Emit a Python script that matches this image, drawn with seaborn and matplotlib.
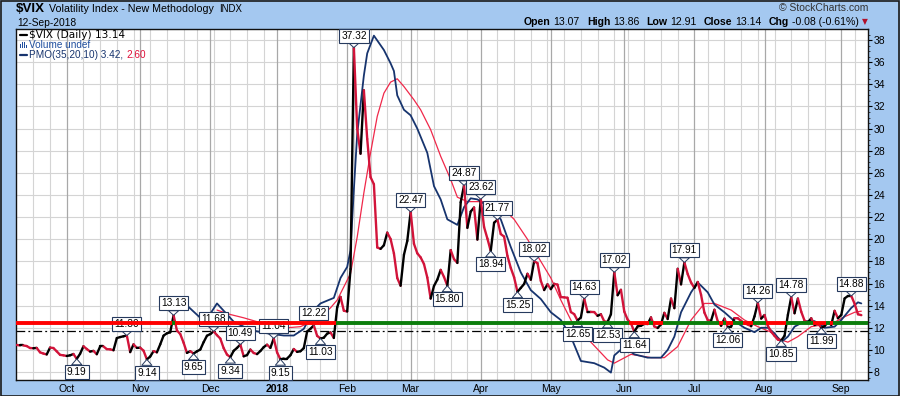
import numpy as np
import pandas as pd
import matplotlib
matplotlib.use("Agg")
import matplotlib.pyplot as plt
import seaborn as sns
from matplotlib.collections import LineCollection
from matplotlib.lines import Line2D
from matplotlib.patches import Rectangle

# ---------------- data ----------------
start_date = "2017-09-11"
end_date = "2018-09-12"
market_holidays = ["2017-11-23", "2017-12-25", "2018-01-01", "2018-01-15", "2018-02-19",
                   "2018-03-30", "2018-05-28", "2018-07-04", "2018-09-03"]

vix_sep17 = [10.45, 10.40, 10.40, 10.35, 10.17, 10.15, 10.18, 9.78, 9.67, 9.59, 10.21, 10.17, 9.87, 9.55, 9.51]
vix_oct17 = [9.45, 9.51, 9.63, 9.19, 9.65, 10.33, 10.08, 9.85, 9.91, 9.61, 10.31, 10.31, 10.07, 10.05, 9.97,
             11.07, 11.16, 11.23, 11.30, 9.80, 10.50, 10.18]
vix_nov17 = [10.20, 9.93, 9.14, 9.40, 9.89, 9.78, 10.50, 11.29, 11.50, 11.59, 13.13, 11.76, 11.43, 10.65, 9.73,
             9.88, 9.67, 9.87, 10.03, 10.70, 11.28]
vix_dec17 = [11.43, 11.68, 11.33, 11.02, 10.16, 9.58, 9.34, 9.92, 10.18, 10.49, 9.42, 9.53, 10.03, 9.72, 9.62,
             9.90, 10.25, 10.47, 10.18, 11.04]
vix_jan18 = [9.77, 9.15, 9.22, 9.22, 9.52, 10.08, 9.82, 9.88, 10.16, 11.66, 11.91, 12.22, 11.27, 11.03, 11.10,
             11.47, 11.58, 11.08, 13.84, 14.79, 13.54]
vix_feb18 = [13.47, 17.31, 37.32, 29.98, 27.73, 33.46, 29.06, 25.61, 24.97, 19.26, 19.13, 19.46, 20.60, 20.02,
             18.72, 16.49, 15.80, 18.59, 19.85]
vix_mar18 = [22.47, 19.59, 18.73, 18.36, 17.76, 16.54, 14.64, 15.78, 16.35, 17.23, 16.59, 15.80, 19.02, 18.20,
             17.86, 23.34, 24.87, 21.03, 22.50, 22.87, 19.97]
vix_apr18 = [23.62, 21.10, 20.06, 18.94, 21.49, 21.77, 20.47, 20.24, 18.49, 17.41, 16.56, 15.25, 15.60, 15.96,
             16.88, 16.34, 18.02, 17.84, 16.24, 15.41, 15.93]
vix_may18 = [15.49, 15.97, 15.90, 14.77, 14.75, 14.71, 13.42, 13.23, 12.65, 12.93, 14.63, 13.42, 13.43, 13.42,
             13.08, 13.22, 12.58, 12.53, 13.22, 17.02, 14.94, 15.43]
vix_jun18 = [13.46, 12.74, 12.40, 11.64, 12.13, 12.18, 12.35, 12.34, 12.94, 12.12, 11.98, 12.31, 13.35, 12.79,
             14.64, 13.77, 17.33, 15.92, 17.91, 16.85, 16.09]
vix_jul18 = [15.60, 16.14, 14.97, 13.37, 12.69, 12.64, 13.63, 12.58, 12.18, 12.83, 12.06, 12.10, 12.87, 12.86,
             12.62, 12.41, 12.29, 12.14, 13.03, 14.26, 12.83]
vix_aug18 = [13.15, 12.19, 11.64, 11.27, 10.93, 10.85, 11.27, 13.16, 14.78, 13.31, 14.64, 13.45, 12.64, 12.49,
             12.86, 12.25, 12.41, 11.99, 12.16, 12.50, 12.25, 13.53, 12.86]
vix_sep18 = [13.16, 14.65, 14.88, 14.88, 14.16, 13.22, 13.14]

label_dates = ["2017-10-05", "2017-10-26", "2017-11-03", "2017-11-15", "2017-11-24", "2017-12-04",
               "2017-12-11", "2017-12-14", "2017-12-29", "2018-01-03", "2018-01-18", "2018-01-22",
               "2018-02-05", "2018-03-01", "2018-03-16", "2018-03-23", "2018-04-02", "2018-04-05",
               "2018-04-09", "2018-04-17", "2018-04-24", "2018-05-11", "2018-05-15", "2018-05-24",
               "2018-05-29", "2018-06-06", "2018-06-27", "2018-07-17", "2018-07-30", "2018-08-08",
               "2018-08-13", "2018-08-24", "2018-09-07"]
label_values = [9.19, 11.30, 9.14, 13.13, 9.65, 11.68, 9.34, 10.49, 11.04, 9.15, 12.22, 11.03,
                37.32, 22.47, 15.80, 24.87, 23.62, 18.94, 21.77, 15.25, 18.02, 12.65, 14.63, 12.53,
                17.02, 11.64, 17.91, 12.06, 14.26, 10.85, 14.78, 11.99, 14.88]
label_sides = ["low", "high", "low", "high", "low", "high", "low", "high", "high", "low", "high", "low",
               "high", "high", "low", "high", "high", "low", "high", "low", "high", "low", "high", "low",
               "high", "low", "high", "low", "high", "low", "high", "low", "high"]

pmo_dates = ["2017-11-20", "2017-11-28", "2017-11-30", "2017-12-05", "2017-12-12", "2017-12-19",
             "2017-12-27", "2018-01-04", "2018-01-09", "2018-01-12", "2018-01-18", "2018-01-22",
             "2018-01-26", "2018-01-30", "2018-02-01", "2018-02-02", "2018-02-05", "2018-02-06",
             "2018-02-08", "2018-02-09", "2018-02-13", "2018-02-16", "2018-02-21", "2018-02-22",
             "2018-02-23", "2018-02-27", "2018-03-01", "2018-03-05", "2018-03-08", "2018-03-12",
             "2018-03-14", "2018-03-16", "2018-03-21", "2018-03-23", "2018-03-27", "2018-03-29",
             "2018-04-04", "2018-04-10", "2018-04-13", "2018-04-18", "2018-04-23", "2018-04-26",
             "2018-05-01", "2018-05-04", "2018-05-09", "2018-05-14", "2018-05-18", "2018-05-23",
             "2018-05-25", "2018-05-29", "2018-06-01", "2018-06-06", "2018-06-12", "2018-06-18",
             "2018-06-20", "2018-06-22", "2018-06-26", "2018-06-29", "2018-07-03", "2018-07-09",
             "2018-07-11", "2018-07-16", "2018-07-19", "2018-07-24", "2018-07-27", "2018-07-31",
             "2018-08-02", "2018-08-06", "2018-08-08", "2018-08-10", "2018-08-14", "2018-08-17",
             "2018-08-22", "2018-08-27", "2018-08-30", "2018-09-04", "2018-09-07", "2018-09-11",
             "2018-09-12"]
pmo_values = [14.3, 12.9, 12.8, 14.2, 12.55, 11.8, 11.5, 11.3, 11.3, 11.9, 13.6, 14.2, 14.7, 16.5, 17.5,
              19.0, 24.5, 29.5, 34.8, 36.8, 38.4, 37.1, 35.9, 35.2, 33.0, 31.7, 31.2, 30.0, 27.8, 24.8,
              23.6, 21.8, 21.3, 22.9, 23.7, 23.6, 23.0, 21.8, 19.3, 17.0, 15.4, 14.6, 13.4, 12.7, 11.2,
              9.0, 8.8, 8.4, 7.95, 9.5, 10.3, 9.6, 9.3, 9.3, 10.0, 11.2, 13.4, 15.2, 16.1, 15.2, 14.1,
              13.4, 12.6, 12.0, 11.6, 12.0, 12.0, 11.5, 10.7, 11.2, 12.1, 12.6, 12.6, 12.0, 12.1, 12.7,
              13.8, 14.3, 14.2]

signal_dates = ["2017-12-05", "2017-12-11", "2017-12-15", "2017-12-21", "2017-12-28", "2018-01-05",
                "2018-01-11", "2018-01-17", "2018-01-22", "2018-01-25", "2018-01-29", "2018-02-02",
                "2018-02-06", "2018-02-08", "2018-02-12", "2018-02-14", "2018-02-16", "2018-02-21",
                "2018-02-23", "2018-02-27", "2018-03-02", "2018-03-06", "2018-03-09", "2018-03-14",
                "2018-03-19", "2018-03-21", "2018-03-26", "2018-03-29", "2018-04-04", "2018-04-10",
                "2018-04-16", "2018-04-20", "2018-04-26", "2018-05-01", "2018-05-04", "2018-05-10",
                "2018-05-17", "2018-05-24", "2018-05-29", "2018-06-05", "2018-06-13", "2018-06-19",
                "2018-06-25", "2018-06-29", "2018-07-06", "2018-07-11", "2018-07-18", "2018-07-24",
                "2018-07-30", "2018-08-03", "2018-08-08", "2018-08-10", "2018-08-15", "2018-08-21",
                "2018-08-27", "2018-08-30", "2018-09-05", "2018-09-10", "2018-09-12"]
signal_values = [13.6, 13.2, 12.9, 12.55, 12.1, 12.0, 12.1, 12.5, 13.0, 13.8, 14.5, 16.9, 20.2, 24.2,
                 27.8, 31.1, 33.2, 34.2, 34.5, 33.8, 32.6, 31.7, 29.9, 27.5, 25.4, 23.8, 23.4, 23.4,
                 23.4, 23.0, 21.8, 20.0, 18.0, 16.5, 14.5, 12.1, 10.7, 9.1, 8.8, 9.6, 9.3, 9.3, 10.3,
                 12.7, 14.2, 14.2, 13.6, 12.7, 12.1, 11.6, 10.9, 10.7, 11.2, 12.1, 12.3, 12.5, 13.0,
                 13.4, 13.5]

level_value = 12.45        # thick horizontal line
support_value = 11.75      # dash-dot horizontal line
y_ticks = list(range(8, 39, 2))
month_names = ["Oct", "Nov", "Dec", "2018", "Feb", "Mar", "Apr", "May", "Jun", "Jul", "Aug", "Sep"]

# ---------------- styling ----------------
BG = "#A4C8F0"
UP = "#000000"
DOWN = "#D2143A"
PMO_C = "#17346E"
SIG_C = "#F0284A"
BOX_EC = "#263A5E"

sns.set_theme(style="white")
plt.rcParams["font.family"] = ["Liberation Sans", "DejaVu Sans"]

W, H = 900, 396
fig = plt.figure(figsize=(W / 100, H / 100), dpi=100)
fig.patch.set_facecolor(BG)
ax = fig.add_axes([16 / W, 1 - 380 / H, (868 - 16) / W, (380 - 29) / H])
ax.set_facecolor("white")

dates = pd.bdate_range(start_date, end_date)
dates = dates[~dates.isin(pd.to_datetime(market_holidays))]
close = np.array(vix_sep17 + vix_oct17 + vix_nov17 + vix_dec17 + vix_jan18 + vix_feb18 + vix_mar18 +
                 vix_apr18 + vix_may18 + vix_jun18 + vix_jul18 + vix_aug18 + vix_sep18)
pos = np.arange(len(dates))


def idx_of(dlist):
    return dates.get_indexer(pd.to_datetime(dlist))


ax.set_xlim(-0.2, 255.0)
ax.set_ylim(7.28, 39.0)

# grid
month_start = [i for i in range(1, len(dates)) if dates[i].month != dates[i - 1].month]
week_start = [i for i in range(1, len(dates)) if dates[i].weekday() <= dates[i - 1].weekday()]
for v in y_ticks:
    ax.axhline(v, color="#D4D4D4", lw=0.8, zorder=0)
for i in week_start:
    if i not in month_start:
        ax.axvline(i, color="#D4D4D4", lw=0.8, zorder=0)
for i in month_start:
    ax.axvline(i, color="#A8A8A8", lw=0.9, zorder=0)

# support dash-dot
ax.axhline(support_value, color="black", lw=0.9, ls=(0, (7, 2.5, 1.5, 2.5)), zorder=2)

# PMO and signal
sns.lineplot(x=idx_of(signal_dates), y=signal_values, color=SIG_C, lw=0.9, ax=ax,
             sort=False, estimator=None, zorder=3)
sns.lineplot(x=idx_of(pmo_dates), y=pmo_values, color=PMO_C, lw=1.3, ax=ax,
             sort=False, estimator=None, zorder=3)

# price line colored by direction
segs = [[(pos[i - 1], close[i - 1]), (pos[i], close[i])] for i in range(1, len(close))]
cols = [UP if close[i] >= close[i - 1] else DOWN for i in range(1, len(close))]
lc = LineCollection(segs, colors=cols, linewidths=1.7, capstyle="round", joinstyle="round", zorder=4)
ax.add_collection(lc)

# labels
for d, v, side in zip(label_dates, label_values, label_sides):
    i = idx_of([d])[0]
    off = 8.6 if side == "high" else -9.6
    ax.annotate(f"{v:.2f}", xy=(i, v), xytext=(0, off), textcoords="offset points",
                ha="center", va="center", fontsize=7.3, color="black", zorder=6,
                bbox=dict(boxstyle="square,pad=0.2", fc="white", ec=BOX_EC, lw=0.8),
                arrowprops=dict(arrowstyle="wedge,tail_width=1.0,shrink_factor=0.5",
                                fc="white", ec=BOX_EC, lw=0.7, shrinkA=0, shrinkB=0))

# thick level line colored by close vs level
lsegs = [[(p - 0.5, level_value), (p + 0.5, level_value)] for p in pos]
lsegs.append([(pos[-1] + 0.5, level_value), (255.0, level_value)])
lcols = ["#0B7D0B" if c > level_value else "#FF0000" for c in close] + ["#0B7D0B"]
ax.add_collection(LineCollection(lsegs, colors=lcols, linewidths=2.8, capstyle="butt", zorder=7))

# axes styling
ax.yaxis.tick_right()
ax.set_yticks(y_ticks)
ax.set_yticklabels([str(v) for v in y_ticks])
ax.set_yticks(np.arange(7.5, 39.0, 0.5), minor=True)
ax.tick_params(axis="y", which="major", direction="out", length=3, width=0.8, pad=1,
               labelsize=7.5, colors="black", right=True, left=False)
ax.tick_params(axis="y", which="minor", direction="out", length=1.5, width=0.6, right=True, left=False)
ax.set_xticks(month_start)
ax.set_xticklabels(month_names)
ax.tick_params(axis="x", direction="out", length=0, pad=3, labelsize=7.5, colors="black")
for lab in ax.get_xticklabels():
    if lab.get_text() == "2018":
        lab.set_fontweight("bold")
for s in ax.spines.values():
    s.set_color("#111111")
    s.set_linewidth(1.0)
ax.set_xlabel("")
ax.set_ylabel("")


def ftext(x, y, s, **kw):
    kw.setdefault("va", "center")
    return fig.text(x / W, 1 - y / H, s, **kw)


# header
ftext(16, 9.5, "$VIX", fontsize=9.6, fontweight="bold", color="black")
ftext(49, 9.5, "Volatility Index - New Methodology", fontsize=7.7, color="black")
ftext(219, 9.5, "INDX", fontsize=6.9, color="black")
ftext(17, 23, "12-Sep-2018", fontsize=7.35, color="black")
ftext(868, 8.3, "\u00a9 StockCharts.com", fontsize=7.5, color="#333333", ha="right")

renderer = fig.canvas.get_renderer()
pieces = [("Open", True, "black", 0), ("13.07", False, "black", 3), ("High", True, "black", 7),
          ("13.86", False, "black", 3), ("Low", True, "black", 7), ("12.91", False, "black", 3),
          ("Close", True, "black", 7), ("13.14", False, "black", 3), ("Chg", True, "black", 7),
          ("-0.08 (-0.61%)", False, "black", 3)]
xr = 859
for txt, bold, col, gap in reversed(pieces):
    t = ftext(xr, 22, txt, fontsize=7.6, fontweight="bold" if bold else "normal", color=col, ha="right")
    bb = t.get_window_extent(renderer)
    xr = bb.x0 - gap
ftext(864.5, 22, "\u25bc", fontsize=5.5, color="#B0102A", ha="center", family="DejaVu Sans")

# legend block
fig.add_artist(Line2D([20 / W, 27 / W], [1 - 34.7 / H, 1 - 34.7 / H], color="black", lw=1.6))
ftext(29, 34.7, "$VIX (Daily) 13.14", fontsize=7.6, color="black", family="DejaVu Sans")
for k, hgt in enumerate([4, 6, 5, 3]):
    fig.add_artist(Rectangle(((20 + k * 2) / W, 1 - 47.5 / H), 1.4 / W, hgt / H,
                             transform=fig.transFigure, color="#1F4E9E", lw=0))
ftext(29, 44.7, "Volume undef", fontsize=7.2, color="#1F4E9E")
fig.add_artist(Line2D([20 / W, 27 / W], [1 - 54.7 / H, 1 - 54.7 / H], color=PMO_C, lw=1.6))
t = ftext(29, 54.7, "PMO(35,20,10) 3.42, ", fontsize=7.2, color=PMO_C)
bb = t.get_window_extent(renderer)
ftext(bb.x1 + 1, 54.7, "2.60", fontsize=7.2, color="#E0103A")

# outer border
fig.add_artist(Rectangle((0.5 / W, 0.5 / H), (W - 1.5) / W, (H - 1.5) / H, transform=fig.transFigure,
                         fill=False, ec="#1A1A1A", lw=1.2))

fig.savefig("out.png", dpi=100, facecolor=BG)
